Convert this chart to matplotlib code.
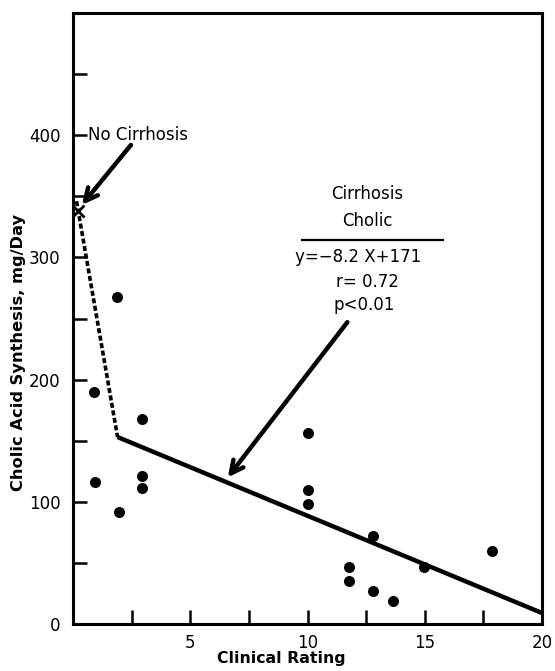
import numpy as np
import matplotlib.pyplot as plt

# clinical rating vs cholic acid synthesis (mg/day)
rating = [1.88, 0.9, 2.95, 0.95, 2.95, 2.95, 1.97, 10.0, 10.0, 10.0, 12.8, 11.77, 11.77,
          12.8, 13.65, 14.97, 17.87]
synthesis = [268, 190, 168, 116, 121, 111, 92, 156, 110, 98, 72, 47, 35, 27, 19, 47, 60]

# no cirrhosis point and regression segments
no_cirr_x, no_cirr_y = 0.2, 338
dash_x = [0.15, 1.9]
dash_y = [346, 153]
fit_x = [1.9, 20.0]
fit_y = [153, 9]

plt.rcParams['font.family'] = ['DejaVu Sans']

fig = plt.figure(figsize=(5.55, 6.71), dpi=100)
ax = fig.add_axes([73 / 555, 1 - 624 / 671, (542 - 73) / 555, (624 - 13) / 671])

ax.scatter(rating, synthesis, s=48, color='black', zorder=3)
ax.plot(dash_x, dash_y, color='black', lw=2.6, ls=(0, (1.4, 0.7)))
ax.plot(fit_x, fit_y, color='black', lw=3.2, solid_capstyle='butt')
ax.plot(no_cirr_x, no_cirr_y, marker='x', color='black', ms=8, mew=2)

ax.set_xlim(0, 20)
ax.set_ylim(0, 500)
ax.set_xticks([5, 10, 15, 20])
ax.set_xticklabels(['5', '10', '15', '20'])
ax.set_xticks([2.5, 7.5, 12.5, 17.5], minor=True)
ax.set_yticks([0, 100, 200, 300, 400])
ax.set_yticks([50, 150, 250, 350, 450], minor=True)

ax.tick_params(which='both', direction='in', length=10, width=1.8, labelsize=12)
ax.tick_params(axis='x', pad=7)
ax.tick_params(axis='y', pad=9)
for s in ax.spines.values():
    s.set_linewidth(2.2)

fig.text(19 / 555, 1 - 352 / 671, 'Cholic Acid Synthesis, mg/Day', rotation=90,
         ha='center', va='center', fontsize=11.7, fontweight='bold')
fig.text(281 / 555, 1 - 659 / 671, 'Clinical Rating', ha='center', va='center',
         fontsize=11.3, fontweight='bold')

# annotations
ax.text(0.64, 400, 'No Cirrhosis', fontsize=12, va='center', ha='left')
ax.annotate('', xy=(0.38, 343), xytext=(2.47, 392),
            arrowprops=dict(arrowstyle='->,head_length=0.9,head_width=0.45',
                            lw=3.2, color='black', shrinkA=0, shrinkB=0))

ax.annotate('', xy=(6.6, 120), xytext=(11.7, 247),
            arrowprops=dict(arrowstyle='->,head_length=0.9,head_width=0.45',
                            lw=3.2, color='black', shrinkA=0, shrinkB=0))

ax.text(12.54, 352, 'Cirrhosis', ha='center', va='center', fontsize=12)
ax.text(12.54, 330, 'Cholic', ha='center', va='center', fontsize=12)
ax.plot([9.77, 15.78], [314, 314], color='black', lw=1.6)
ax.text(12.15, 300, 'y=\u22128.2 X+171', ha='center', va='center', fontsize=12)
ax.text(12.54, 280, 'r= 0.72', ha='center', va='center', fontsize=12)
ax.text(12.4, 261, 'p<0.01', ha='center', va='center', fontsize=12)

fig.savefig('out.png', dpi=100)
